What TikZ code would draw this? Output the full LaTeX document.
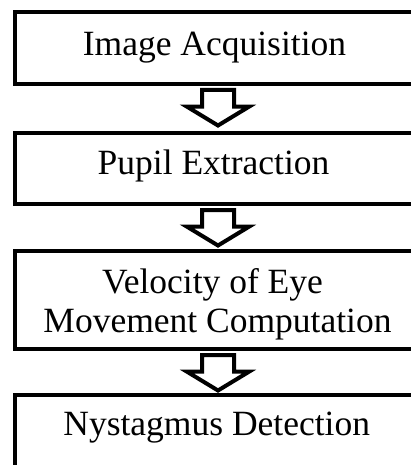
\documentclass[tikz,border=0pt]{standalone}
\usepackage{fontspec}
\setmainfont{Liberation Serif}
\usetikzlibrary{calc}
\begin{document}
\begin{tikzpicture}[x=1pt,y=-1pt,
  box/.style={draw=black, line width=4pt, fill=white, minimum width=407pt, inner sep=0pt},
  txt/.style={font=\fontsize{35.5pt}{39pt}\selectfont, inner sep=0pt, anchor=base, text=black},
  blockarrow/.style={draw=black, fill=white, line width=4pt, miter limit=10, line join=miter}]
\useasboundingbox (0,0) rectangle (411,465);
\begin{scope}
\clip (0,0) rectangle (411,465);
\fill[white] (0,0) rectangle (411,465);
% boxes
\node[box, minimum height=71.5pt] (b1) at (218,48.25) {};
\node[box, minimum height=71pt]   (b2) at (218,168.5) {};
\node[box, minimum height=98.5pt] (b3) at (218,299.75) {};
\node[box, minimum height=72pt]   (b4) at (218,430.5) {};
% texts
\node[txt] (t1)  at (214.5,56)    {Image Acquisition};
\node[txt] (t2)  at (213.5,175)   {Pupil Extraction};
\node[txt] (t3a) at (212.5,293.3) {Velocity of Eye};
\node[txt] (t3b) at (217.5,332.3) {Movement Computation};
\node[txt] (t4)  at (216.7,435)   {Nystagmus Detection};
% block arrows
\foreach \u in {b1,b2,b3}
  \draw[blockarrow] ($(\u.south)+(-16,4)$) -- ++(0,16.7) -- ++(-15,0)
      -- ($(\u.south)+(0,39.5)$) -- ++(31,-18.8) -- ++(-15,0)
      -- ($(\u.south)+(16,4)$) -- cycle;
\end{scope}
\end{tikzpicture}
\end{document}
